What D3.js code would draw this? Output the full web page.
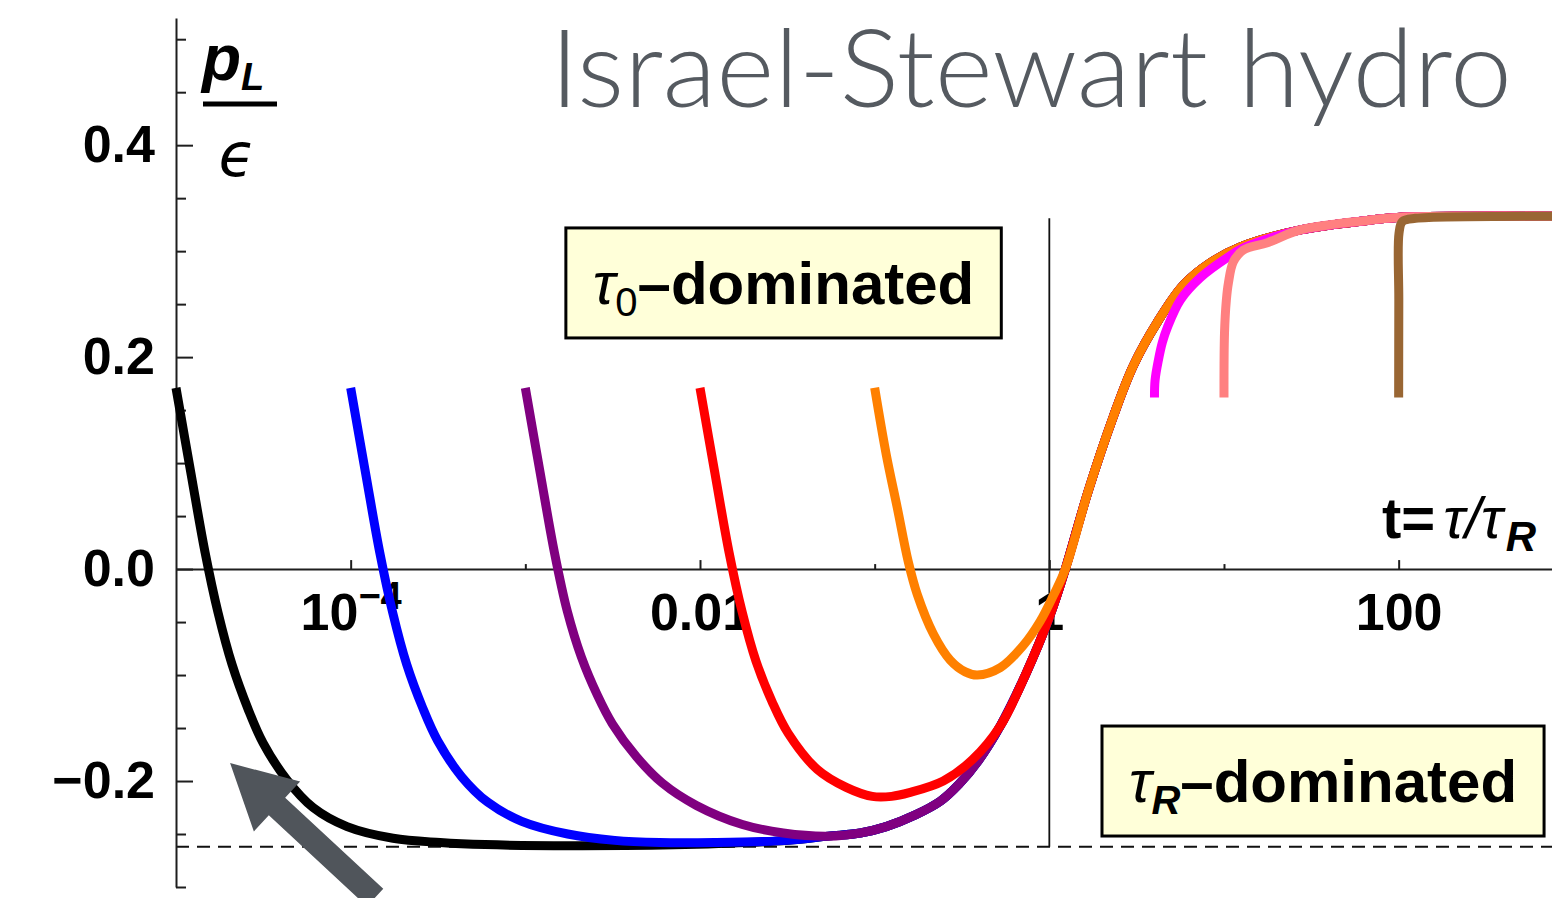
<!DOCTYPE html>
<html>
<head>
<meta charset="utf-8">
<script src="https://cdn.jsdelivr.net/npm/d3@7"></script>
<style>
  html, body { margin: 0; padding: 0; background: #fff; overflow: hidden; }
  svg { display: block; }
</style>
</head>
<body>
<svg id="chart" width="1552" height="898"></svg>
<script>
// p_L/epsilon versus t = tau/tau_R for Israel-Stewart hydro (Bjorken flow),
// one curve per initialisation time t0.

// x tick values
const xMajorTicks = [1e-4, 1e-2, 1, 100];
const xMinorTicks = [1e-3, 1e-1, 10];
// y tick values
const yMajorTicks = [-0.2, 0, 0.2, 0.4];
const yMinorTicks = [-0.3, -0.25, -0.15, -0.1, -0.05, 0.05, 0.1, 0.15, 0.25, 0.3, 0.35, 0.45, 0.5];

// reference lines
const asymptoteValue = -0.262;   // dashed horizontal line
const crossoverT = 1;            // vertical line at t = 1
const crossoverTop = 0.331;

// shared late-time segments, [t, pL/eps]
const lowBranch = [[5.42e-2, -0.252], [8.28e-2, -0.249], [0.1165, -0.243], [0.171, -0.232],
                   [0.238, -0.219], [0.304, -0.203], [0.392, -0.181]];
const riseBranch = [[0.524, -0.148], [0.729, -0.100], [1.013, -0.043], [1.235, 0.000]];
const upperBranch = [[1.673, 0.074], [2.326, 0.144], [3.028, 0.192], [4.155, 0.233],
                     [5.854, 0.268], [8.358, 0.289], [12.42, 0.304]];
const plateau = [[27.39, 0.320], [66.27, 0.329], [102.4, 0.332], [257.8, 0.333], [760, 0.333]];

// early-time parts of each curve
const curveT0em5 = [[1e-5, 0.171], [1.219e-5, 0.090], [1.466e-5, 0.016], [1.740e-5, -0.041],
                    [2.093e-5, -0.090], [2.585e-5, -0.132], [3.149e-5, -0.164], [4.323e-5, -0.199],
                    [6.091e-5, -0.225], [9.537e-5, -0.243], [1.749e-4, -0.254], [3.251e-4, -0.258],
                    [5.886e-4, -0.260], [1.830e-3, -0.261], [8.228e-3, -0.260], [3.200e-2, -0.256]];
const curveT0em4 = [[1e-4, 0.171], [1.219e-4, 0.090], [1.466e-4, 0.016], [1.740e-4, -0.041],
                    [2.093e-4, -0.090], [2.585e-4, -0.131], [3.149e-4, -0.162], [4.323e-4, -0.196],
                    [6.091e-4, -0.220], [9.537e-4, -0.238], [1.749e-3, -0.250], [3.251e-3, -0.256],
                    [5.886e-3, -0.258], [1.200e-2, -0.258], [3.200e-2, -0.256]];
const curveT0em3 = [[1e-3, 0.171], [1.219e-3, 0.090], [1.466e-3, 0.016], [1.740e-3, -0.040],
                    [2.093e-3, -0.083], [2.585e-3, -0.119], [3.149e-3, -0.146], [4.323e-3, -0.177],
                    [6.091e-3, -0.202], [9.537e-3, -0.223], [1.749e-2, -0.241], [3.000e-2, -0.249]];
const curveT0em2 = [[1e-2, 0.171], [1.219e-2, 0.090], [1.466e-2, 0.016], [1.740e-2, -0.040],
                    [2.093e-2, -0.087], [2.585e-2, -0.125], [3.200e-2, -0.155], [4.690e-2, -0.189],
                    [6.876e-2, -0.206], [9.690e-2, -0.2145], [0.125, -0.2145], [0.1578, -0.211],
                    [0.2471, -0.200], [0.3622, -0.180]];
const curveT0em1 = [[0.1, 0.171], [0.1165, 0.108], [0.1347, 0.058], [0.1557, 0.007], [0.1754, -0.024],
                    [0.2166, -0.061], [0.2710, -0.086], [0.3303, -0.097], [0.3869, -0.100],
                    [0.5241, -0.093], [0.7100, -0.072], [0.8882, -0.049], [1.054, -0.025]];
const curveT0_4 = [[4, 0.162], [4.03, 0.178], [4.21, 0.197], [4.44, 0.214], [4.74, 0.228],
                   [5.63, 0.254], [7.32, 0.275], [10.46, 0.294], [12.92, 0.303]];
const curveT0_10 = [[10, 0.162], [10.07, 0.223], [10.32, 0.254], [10.60, 0.270], [11.32, 0.290],
                    [12.92, 0.301], [17.73, 0.308]];
const curveT0_100 = [[100, 0.162], [100.2, 0.254], [100.5, 0.317], [105.1, 0.328], [124.8, 0.331],
                     [158.2, 0.332], [760, 0.333]];

const curveColors = ["#000000", "#0000ff", "#800080", "#ff0000", "#ff8000", "#ff00ff", "#ff8080", "#996633"];

const series = [
  curveT0em5.concat(lowBranch, riseBranch, upperBranch, plateau),
  curveT0em4.concat(lowBranch, riseBranch, upperBranch, plateau),
  curveT0em3.concat(lowBranch, riseBranch, upperBranch, plateau),
  curveT0em2.concat(riseBranch, upperBranch, plateau),
  curveT0em1.concat(riseBranch.slice(-1), upperBranch, plateau),
  curveT0_4.concat(plateau),
  curveT0_10.concat(plateau),
  curveT0_100
];

const svg = d3.select("#chart");

const x = d3.scaleLog().domain([1e-5, 755]).range([176, 1552]);
const y = d3.scaleLinear().domain([-0.3, 0.52]).range([887, 18]);

const labelFont = "'Liberation Sans', Arial, sans-serif";
const axisColor = "#1e1e1e";

// ---- title
svg.append("text")
  .attr("x", 550).attr("y", 107)
  .attr("font-family", "Lato, 'Open Sans', sans-serif")
  .attr("font-weight", 300)
  .attr("font-size", 108)
  .attr("fill", "#555a60")
  .attr("textLength", 962)
  .attr("lengthAdjust", "spacingAndGlyphs")
  .text("Israel-Stewart hydro");

// ---- reference lines
svg.append("line")
  .attr("x1", x.range()[0]).attr("x2", x.range()[1])
  .attr("y1", y(asymptoteValue)).attr("y2", y(asymptoteValue))
  .attr("stroke", "#111").attr("stroke-width", 1.8)
  .attr("stroke-dasharray", "13,8");

svg.append("line")
  .attr("x1", x(crossoverT)).attr("x2", x(crossoverT))
  .attr("y1", y(asymptoteValue)).attr("y2", y(crossoverTop))
  .attr("stroke", "#111").attr("stroke-width", 1.8);

// ---- y axis (ticks point inward)
const yAxisG = svg.append("g").attr("transform", `translate(${x.range()[0]},0)`);
yAxisG.call(d3.axisLeft(y).tickValues(yMajorTicks).tickSizeInner(-17).tickSizeOuter(0)
  .tickPadding(21).tickFormat(d3.format(".1f")));
yAxisG.append("g").call(d3.axisLeft(y).tickValues(yMinorTicks).tickSizeInner(-10).tickSizeOuter(0)
  .tickFormat(""))
  .select(".domain").remove();

// ---- x axis through zero
const xFmt = d => d === 1e-4 ? "10" : d === 1e-2 ? "0.01" : String(d);
const xAxisG = svg.append("g").attr("transform", `translate(0,${y(0)})`);
xAxisG.call(d3.axisBottom(x).tickValues(xMajorTicks).tickSizeInner(-9).tickSizeOuter(0)
  .tickPadding(24).tickFormat(xFmt));
xAxisG.append("g").call(d3.axisBottom(x).tickValues(xMinorTicks).tickSizeInner(-5).tickSizeOuter(0)
  .tickFormat(""))
  .select(".domain").remove();
xAxisG.selectAll(".tick text").filter(d => d === 1e-4)
  .append("tspan").attr("dy", "-0.55em").text("\u22124");

[yAxisG, xAxisG].forEach(g => {
  g.attr("color", axisColor);
  g.selectAll("path, line").attr("stroke-width", 2);
  g.selectAll("text")
    .attr("font-family", labelFont)
    .attr("font-weight", "bold")
    .attr("font-size", 52)
    .attr("fill", "#000");
});
xAxisG.selectAll(".tick text tspan").attr("font-size", 38);

// ---- curves
const line = d3.line()
  .x(d => x(d[0]))
  .y(d => y(d[1]))
  .curve(d3.curveCatmullRom.alpha(0.5));

svg.append("g").selectAll("path")
  .data(series)
  .join("path")
  .attr("d", line)
  .attr("fill", "none")
  .attr("stroke", (d, i) => curveColors[i])
  .attr("stroke-width", 9)
  .attr("stroke-linejoin", "round")
  .attr("stroke-linecap", "butt");

// ---- axis labels
const yLab = svg.append("g").attr("font-family", labelFont).attr("fill", "#000");
yLab.append("text").attr("x", 202).attr("y", 80)
  .attr("font-size", 64).attr("font-weight", "bold").attr("font-style", "italic")
  .text("p")
  .append("tspan").attr("font-size", 38).attr("dy", 10).text("L");
yLab.append("line").attr("x1", 203).attr("x2", 277).attr("y1", 104).attr("y2", 104)
  .attr("stroke", "#000").attr("stroke-width", 5);
yLab.append("text").attr("x", 237).attr("y", 176).attr("text-anchor", "middle")
  .attr("font-family", "'DejaVu Sans', sans-serif")
  .attr("font-size", 60).attr("font-style", "italic")
  .text("\u03F5");

const xLab = svg.append("text")
  .attr("x", x.range()[1] - 170).attr("y", y(0) - 31)
  .attr("font-family", labelFont).attr("font-size", 58).attr("fill", "#000");
xLab.append("tspan").attr("font-weight", "bold").text("t=");
xLab.append("tspan").attr("font-style", "italic").attr("dx", 8).text("\u03C4/\u03C4");
xLab.append("tspan").attr("font-style", "italic").attr("font-weight", "bold")
  .attr("font-size", 42).attr("dx", 3).attr("dy", 13).text("R");

// ---- annotation boxes
function regimeBox(cx, cy, sub) {
  const g = svg.append("g");
  const rect = g.append("rect");
  const t = g.append("text")
    .attr("x", cx).attr("y", cy + 21)
    .attr("text-anchor", "middle")
    .attr("font-family", labelFont).attr("font-size", 60).attr("fill", "#000");
  t.append("tspan").attr("font-style", "italic").text("\u03C4");
  t.append("tspan").attr("font-size", 40).attr("dy", 12)
    .attr("font-style", sub === "R" ? "italic" : "normal")
    .attr("font-weight", sub === "R" ? "bold" : "normal")
    .text(sub);
  t.append("tspan").attr("font-weight", "bold").attr("dy", -12).text("\u2013dominated");
  const bb = t.node().getBBox();
  const padX = 27, h = 110;
  rect.attr("x", bb.x - padX).attr("y", cy - h / 2)
    .attr("width", bb.width + 2 * padX).attr("height", h)
    .attr("fill", "#ffffd9").attr("stroke", "#000").attr("stroke-width", 3);
}
regimeBox(x(0.0301), y(0.270), "0");
regimeBox(x(36.9), y(-0.200), "R");

// ---- arrow pointing at the earliest curve
const arrowTip = [x(2.04e-5), y(-0.183)];
const arrowTail = [x(1.38e-4), y(-0.31)];
(function drawArrow() {
  const dx = arrowTip[0] - arrowTail[0], dy = arrowTip[1] - arrowTail[1];
  const len = Math.hypot(dx, dy);
  const ux = dx / len, uy = dy / len, nx = -uy, ny = ux;
  const headLen = 64, headHalf = 34, shaftHalf = 12;
  const bx = arrowTip[0] - ux * headLen, by = arrowTip[1] - uy * headLen;
  const pts = [
    [arrowTail[0] + nx * shaftHalf, arrowTail[1] + ny * shaftHalf],
    [bx + nx * shaftHalf, by + ny * shaftHalf],
    [bx + nx * headHalf, by + ny * headHalf],
    arrowTip,
    [bx - nx * headHalf, by - ny * headHalf],
    [bx - nx * shaftHalf, by - ny * shaftHalf],
    [arrowTail[0] - nx * shaftHalf, arrowTail[1] - ny * shaftHalf]
  ];
  svg.append("path")
    .attr("d", "M" + pts.map(p => p.join(",")).join("L") + "Z")
    .attr("fill", "#50555b");
})();
</script>
</body>
</html>
